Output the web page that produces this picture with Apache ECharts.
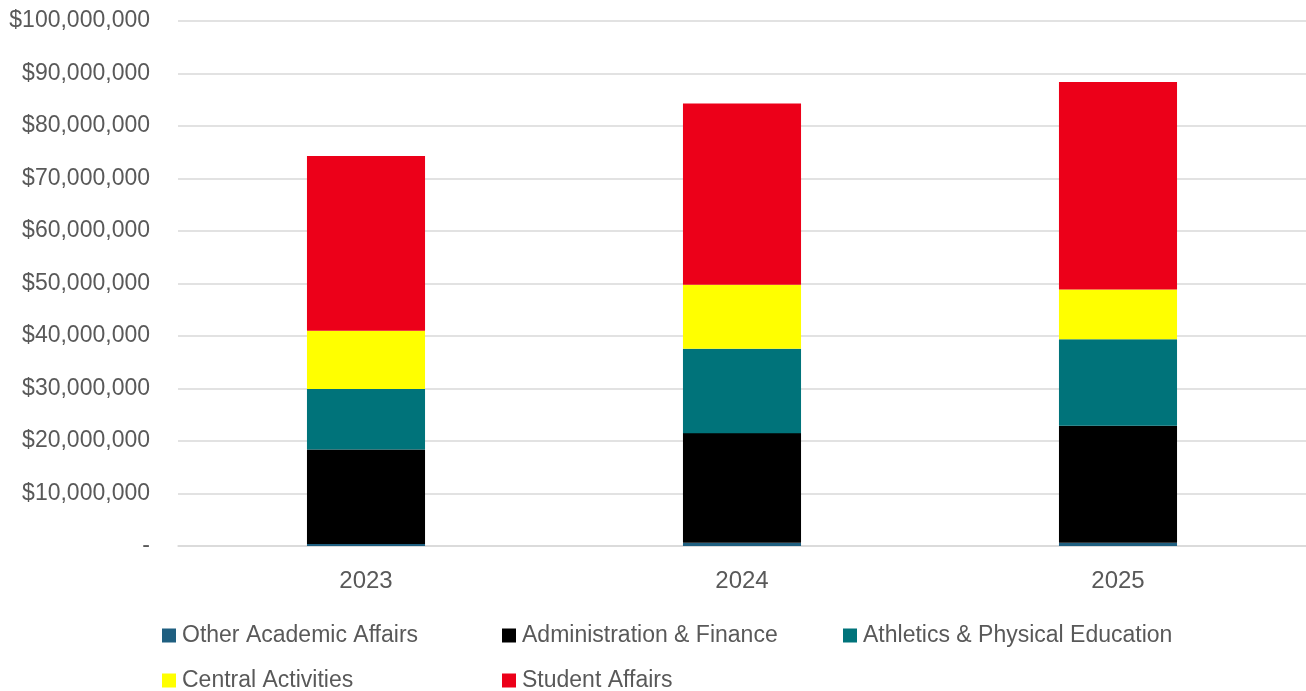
<!DOCTYPE html>
<html>
<head>
<meta charset="utf-8">
<title>Budget by Division</title>
<script src="https://cdn.jsdelivr.net/npm/echarts@6/dist/echarts.min.js"></script>
<style>
  html, body { margin: 0; padding: 0; background: #ffffff; }
  #chart { width: 1306px; height: 691px; }
</style>
</head>
<body>
<div id="chart"></div>
<script>
// Fiscal years on the category axis
const years = ['2023', '2024', '2025'];

// Budget by division, in dollars (stacked bottom to top)
const otherAcademicAffairs = [400000, 600000, 600000];
const administrationFinance = [18000000, 20900000, 22300000];
const athleticsPhysicalEducation = [11500000, 16050000, 16500000];
const centralActivities = [11100000, 12200000, 9460000];
const studentAffairs = [33300000, 34550000, 39540000];

// Value axis range and step
const axisMin = 0;
const axisMax = 100000000;
const axisStep = 10000000;

const textColor = '#595959';
const fontFamily = 'Liberation Sans, Arial, sans-serif';

function money(v) {
  if (v === 0) return '-';
  return '$' + v.toLocaleString('en-US');
}

const seriesDefs = [
  { name: 'Other Academic Affairs', data: otherAcademicAffairs, color: '#1F5F80' },
  { name: 'Administration & Finance', data: administrationFinance, color: '#000000' },
  { name: 'Athletics & Physical Education', data: athleticsPhysicalEducation, color: '#00737A' },
  { name: 'Central Activities', data: centralActivities, color: '#FFFF00' },
  { name: 'Student Affairs', data: studentAffairs, color: '#EC0019' }
];

// Legend entries laid out in two rows of columns
const legendSpots = [
  { left: 162, top: 624 },
  { left: 502, top: 624 },
  { left: 843, top: 624 },
  { left: 162, top: 669 },
  { left: 502, top: 669 }
];

const chart = echarts.init(document.getElementById('chart'), null, { renderer: 'canvas' });

chart.setOption({
  animation: false,
  backgroundColor: '#ffffff',
  textStyle: { fontFamily: fontFamily },
  grid: { left: 178, right: 0, top: 21, bottom: 145, containLabel: false },
  legend: seriesDefs.map((s, i) => ({
    data: [s.name],
    left: legendSpots[i].left,
    top: legendSpots[i].top,
    padding: 0,
    itemWidth: 14,
    itemHeight: 14,
    itemGap: 0,
    icon: 'rect',
    selectedMode: false,
    textStyle: { color: textColor, fontSize: 23, fontFamily: fontFamily, padding: [0, 0, 0, 1] }
  })),
  xAxis: {
    type: 'category',
    data: years,
    axisLine: { show: true, lineStyle: { color: '#D9D9D9', width: 1.5 } },
    axisTick: { show: false },
    axisLabel: { color: textColor, fontSize: 24, margin: 23, fontFamily: fontFamily }
  },
  yAxis: {
    type: 'value',
    min: axisMin,
    max: axisMax,
    interval: axisStep,
    axisLine: { show: false },
    axisTick: { show: false },
    splitLine: { lineStyle: { color: '#D9D9D9', width: 1.5 } },
    axisLabel: {
      color: textColor,
      fontSize: 23,
      margin: 28,
      fontFamily: fontFamily,
      padding: [2, 0, 0, 0],
      formatter: money
    }
  },
  series: seriesDefs.map(s => ({
    name: s.name,
    type: 'bar',
    stack: 'total',
    data: s.data,
    barWidth: '31.4%',
    itemStyle: { color: s.color },
    emphasis: { disabled: true }
  }))
});
</script>
</body>
</html>
